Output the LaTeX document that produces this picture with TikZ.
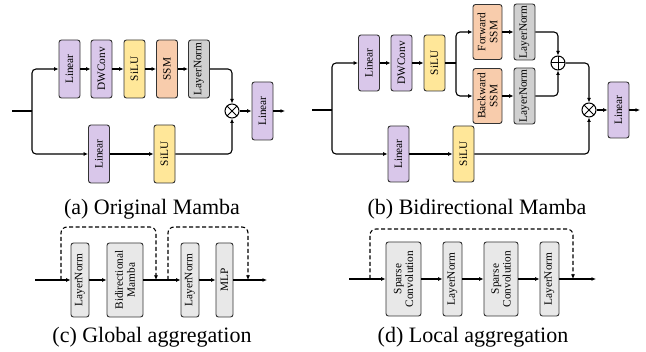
\documentclass[tikz,border=0pt]{standalone}
\usepackage{fontspec}
\setmainfont{Liberation Serif}
\usepackage{tikz}
\usetikzlibrary{arrows.meta}

\definecolor{lilac}{RGB}{217,199,234}
\definecolor{butter}{RGB}{255,231,153}
\definecolor{peach}{RGB}{248,204,172}
\definecolor{normgray}{RGB}{208,208,208}
\definecolor{aggfill}{RGB}{232,232,232}

\begin{document}
\begin{tikzpicture}[
    x=1pt, y=-1pt,
    every node/.style={font=\fontsize{11.3}{11.8}\selectfont},
    box/.style={draw=black!80, line width=0.9pt, rounded corners=2.5pt, rotate=90, align=center, inner sep=0pt},
    blk/.style={box, minimum width=58pt, minimum height=21pt},
    linear/.style={blk, fill=lilac},
    silu/.style={blk, fill=butter},
    ssm/.style={blk, fill=peach},
    norm/.style={blk, fill=normgray},
    agg/.style={box, fill=aggfill, minimum width=74pt},
    mult/.style={circle, draw, line width=1pt, minimum size=14pt, inner sep=0pt,
        path picture={\draw[line width=1pt] (path picture bounding box.north west) -- (path picture bounding box.south east)
                      (path picture bounding box.north east) -- (path picture bounding box.south west);}},
    plus/.style={circle, draw, line width=1pt, minimum size=14pt, inner sep=0pt,
        path picture={\draw[line width=1pt] (path picture bounding box.north) -- (path picture bounding box.south)
                      (path picture bounding box.west) -- (path picture bounding box.east);}},
    subcap/.style={font=\fontsize{22}{24}\selectfont},
    wire/.style={line width=1.1pt, rounded corners=4pt},
    arrow/.style={wire, -{Latex[length=4.5pt,width=4pt]}},
    skiparrow/.style={arrow, dash pattern=on 4pt off 2.5pt, rounded corners=6pt}
]
\useasboundingbox (0,0) rectangle (646,352);

% (a) Original Mamba
\coordinate (inA) at (12,111);
\coordinate (brA) at (32,111);
\node[linear] (l1) at (69.5,69) {Linear};
\node[linear] (dw) at (101.5,69) {DWConv};
\node[silu] (si) at (134.5,69) {SiLU};
\node[ssm] (sm) at (167,69) {SSM};
\node[norm] (ln) at (199,69) {LayerNorm};
\node[mult] (ot) at (232,111) {};
\node[linear] (l2) at (99,154) {Linear};
\node[silu] (s2) at (164.5,154) {SiLU};
\node[linear] (lo) at (262.5,111) {Linear};
\coordinate (outA) at (285,111);
\node[subcap] (capA) at (152,209) {(a) Original Mamba};

\draw[wire] (inA) -- (brA);
\draw[arrow] (brA) |- (l1);
\draw[arrow] (brA) |- (l2);
\draw[arrow] (l1) -- (dw);
\draw[arrow] (dw) -- (si);
\draw[arrow] (si) -- (sm);
\draw[arrow] (sm) -- (ln);
\draw[arrow] (ln) -| (ot);
\draw[arrow] (l2) -- (s2);
\draw[arrow] (s2) -| (ot);
\draw[arrow] (ot) -- (lo);
\draw[arrow] (lo) -- (outA);

% (b) Bidirectional Mamba
\coordinate (inB) at (312,110);
\coordinate (brB) at (332,110);
\node[linear, minimum width=56pt] (bl1) at (369,63) {Linear};
\node[linear, minimum width=56pt] (bdw) at (401.5,63) {DWConv};
\node[silu, minimum width=56pt] (bsi) at (434.5,63) {SiLU};
\coordinate (brS) at (456,63);
\node[ssm, minimum width=55pt, minimum height=29pt] (fw) at (487.5,32) {Forward\\SSM};
\node[norm, minimum width=56pt] (fln) at (524.5,32) {LayerNorm};
\node[ssm, minimum width=55pt, minimum height=29pt] (bw) at (487.5,96) {Backward\\SSM};
\node[norm, minimum width=56pt] (bln) at (524.5,96) {LayerNorm};
\node[plus] (op) at (558,63) {};
\node[mult] (ob) at (589,110) {};
\node[linear, minimum width=56pt] (bl2) at (398.5,154) {Linear};
\node[silu, minimum width=56pt] (bs2) at (463.5,154) {SiLU};
\node[linear, minimum width=56pt] (blo) at (618.5,110) {Linear};
\coordinate (outB) at (640,110);
\node[subcap] (capB) at (477,209) {(b) Bidirectional Mamba};

\draw[wire] (inB) -- (brB);
\draw[arrow] (brB) |- (bl1);
\draw[arrow] (brB) |- (bl2);
\draw[arrow] (bl1) -- (bdw);
\draw[arrow] (bdw) -- (bsi);
\draw[wire] (bsi) -- (brS);
\draw[arrow] (brS) |- (fw);
\draw[arrow] (brS) |- (bw);
\draw[arrow] (fw) -- (fln);
\draw[arrow] (bw) -- (bln);
\draw[arrow] (fln) -| (op);
\draw[arrow] (bln) -| (op);
\draw[arrow] (op) -| (ob);
\draw[arrow] (bl2) -- (bs2);
\draw[arrow] (bs2) -| (ob);
\draw[arrow] (ob) -- (blo);
\draw[arrow] (blo) -- (outB);

% (c) Global aggregation
\coordinate (inC) at (35,280);
\coordinate (sk1) at (61,280);
\coordinate (sk1e) at (156,280);
\coordinate (sk2) at (168,280);
\coordinate (sk2e) at (248,280);
\node[agg, minimum height=18pt] (cln1) at (80,280) {LayerNorm};
\node[agg, minimum height=36pt] (bm) at (125,280) {Bidirectional\\Mamba};
\node[agg, minimum height=18pt] (cln2) at (190,280) {LayerNorm};
\node[agg, minimum height=17pt] (mlp) at (224.5,280) {MLP};
\coordinate (outC) at (267,280);
\node[subcap] (capC) at (152,337) {(c) Global aggregation};

\draw[arrow] (inC) -- (cln1);
\draw[arrow] (cln1) -- (bm);
\draw[arrow] (bm) -- (cln2);
\draw[arrow] (cln2) -- (mlp);
\draw[arrow] (mlp) -- (outC);
\draw[skiparrow] (sk1) -- ++(0,-53) -| (sk1e);
\draw[skiparrow] (sk2) -- ++(0,-53) -| (sk2e);

% (d) Local aggregation
\coordinate (inD) at (349,279);
\coordinate (sk3) at (370,279);
\coordinate (sk3e) at (573,279);
\node[agg, minimum height=35pt] (sc1) at (403.5,279) {Sparse\\Convolution};
\node[agg, minimum height=19pt] (dln1) at (452.5,279) {LayerNorm};
\node[agg, minimum height=34pt] (sc2) at (501,279) {Sparse\\Convolution};
\node[agg, minimum height=19pt] (dln2) at (549.5,279) {LayerNorm};
\coordinate (outD) at (596,279);
\node[subcap] (capD) at (473,337) {(d) Local aggregation};

\draw[arrow] (inD) -- (sc1);
\draw[arrow] (sc1) -- (dln1);
\draw[arrow] (dln1) -- (sc2);
\draw[arrow] (sc2) -- (dln2);
\draw[arrow] (dln2) -- (outD);
\draw[skiparrow] (sk3) -- ++(0,-50) -| (sk3e);

\end{tikzpicture}
\end{document}
